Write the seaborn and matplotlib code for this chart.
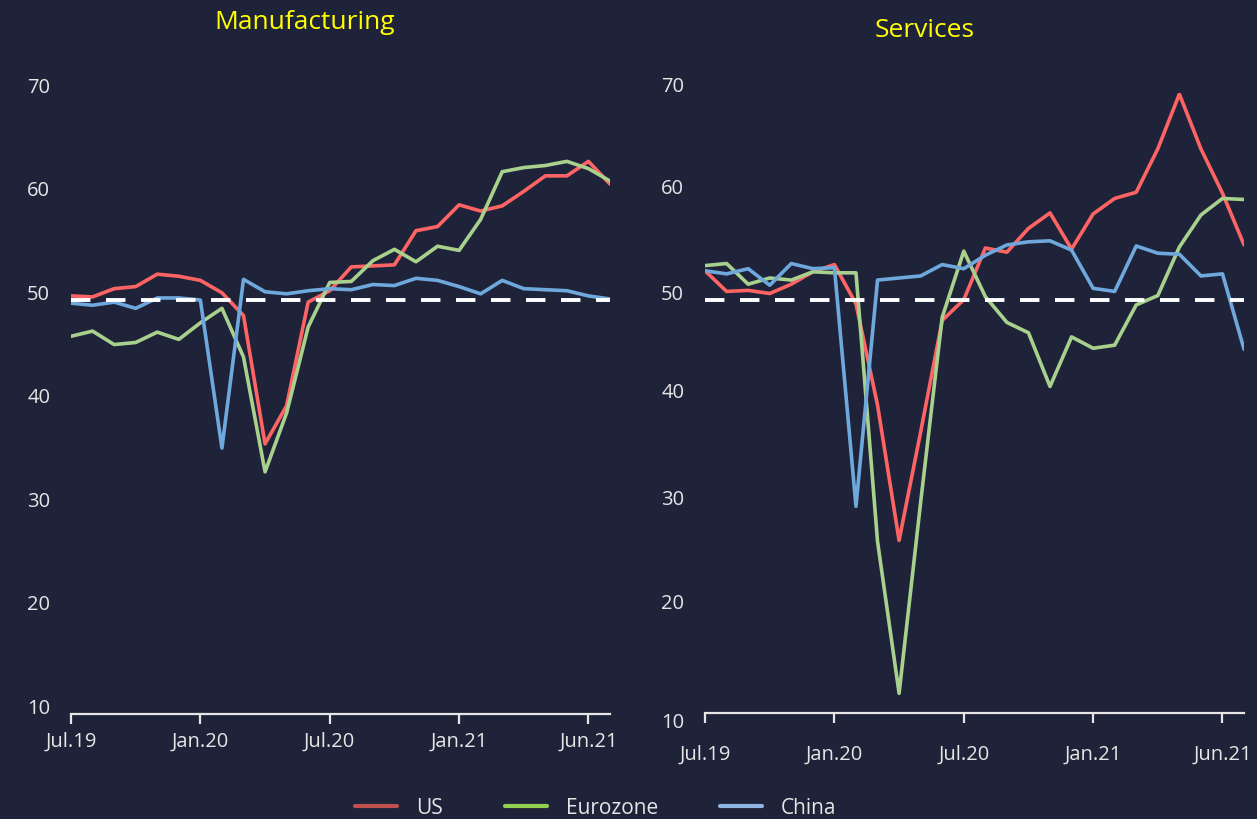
import matplotlib
matplotlib.use('Agg')
import matplotlib.pyplot as plt
import matplotlib.transforms as mtransforms
from matplotlib.lines import Line2D
import pandas as pd
import seaborn as sns

# Monthly PMI readings, Jul.19 .. Aug.21 (26 months)
months = list(range(26))
tick_pos = [0, 6, 12, 18, 24]
tick_labels = ['Jul.19', 'Jan.20', 'Jul.20', 'Jan.21', 'Jun.21']
y_ticks = [10, 20, 30, 40, 50, 60, 70]
regions = ['US', 'Eurozone', 'China']

us_mfg = [50.4, 50.3, 51.1, 51.3, 52.5, 52.3, 51.9, 50.7, 48.5, 36.1, 39.8, 49.8, 50.9,
          53.2, 53.3, 53.4, 56.7, 57.1, 59.2, 58.6, 59.1, 60.5, 62.0, 62.0, 63.4, 61.2]
ez_mfg = [46.5, 47.0, 45.7, 45.9, 46.9, 46.2, 47.8, 49.2, 44.5, 33.4, 39.1, 47.4, 51.7,
          51.8, 53.8, 54.9, 53.7, 55.2, 54.8, 57.8, 62.4, 62.8, 63.0, 63.4, 62.7, 61.5]
cn_mfg = [49.7, 49.5, 49.8, 49.2, 50.2, 50.2, 50.0, 35.7, 52.0, 50.8, 50.6, 50.9, 51.1,
          51.0, 51.5, 51.4, 52.1, 51.9, 51.3, 50.6, 51.9, 51.1, 51.0, 50.9, 50.4, 50.1]

us_srv = [52.8, 50.8, 50.9, 50.6, 51.5, 52.7, 53.4, 49.6, 39.8, 26.7, 37.2, 48.0, 50.0,
          55.0, 54.6, 56.9, 58.4, 54.9, 58.3, 59.8, 60.4, 64.6, 69.9, 64.6, 60.3, 55.3]
ez_srv = [53.3, 53.5, 51.5, 52.1, 51.9, 52.7, 52.6, 52.6, 26.6, 11.9, 30.4, 48.3, 54.7,
          50.3, 47.8, 46.8, 41.6, 46.4, 45.3, 45.6, 49.5, 50.4, 55.1, 58.2, 59.8, 59.7]
cn_srv = [52.8, 52.5, 53.0, 51.4, 53.5, 53.0, 53.1, 30.0, 51.9, 52.1, 52.3, 53.4, 53.0,
          54.3, 55.3, 55.6, 55.7, 54.8, 51.1, 50.8, 55.2, 54.5, 54.4, 52.3, 52.5, 45.2]

bg = '#1f2339'
fg = '#e6e6e6'
line_colors = {'US': '#ff6464', 'Eurozone': '#a9d18e', 'China': '#6fa8dc'}
legend_colors = ['#c0504d', '#92d050', '#8db4e2']

sns.set_style('dark')
plt.rcParams['font.family'] = ['Open Sans', 'DejaVu Sans']


def long_frame(us, ez, cn):
    return pd.DataFrame({
        'month': months * 3,
        'value': us + ez + cn,
        'region': ['US'] * 26 + ['Eurozone'] * 26 + ['China'] * 26,
    })


fig = plt.figure(figsize=(12.57, 8.2), dpi=100, facecolor=bg)
ax1 = fig.add_axes([0.0565, 0.128, 0.4288, 0.7573])
ax2 = fig.add_axes([0.5609, 0.1293, 0.4288, 0.756])


def style_panel(ax, df, xpad, ylab_shift):
    ax.set_facecolor(bg)
    sns.lineplot(data=df, x='month', y='value', hue='region', hue_order=regions,
                 palette=line_colors, linewidth=2.6, ax=ax, legend=False)
    ax.axhline(50, color='white', lw=2.8, linestyle=(0, (5.0, 4.0)), zorder=5)
    ax.set_xlim(0, 25)
    ax.set_ylim(10, 70)
    ax.set_xticks(tick_pos)
    ax.set_xticklabels(tick_labels)
    ax.set_yticks(y_ticks)
    ax.set_yticklabels([str(v) for v in y_ticks])
    ax.set_xlabel('')
    ax.set_ylabel('')
    ax.grid(False)
    for side in ['top', 'right', 'left']:
        ax.spines[side].set_visible(False)
    ax.spines['bottom'].set_color(fg)
    ax.spines['bottom'].set_linewidth(1.6)
    ax.tick_params(axis='x', colors=fg, labelsize=14.5, length=7, width=1.6,
                   direction='out', pad=xpad, bottom=True)
    ax.tick_params(axis='y', colors=fg, labelsize=14.5, length=0, pad=15)
    for lab, dy in zip(ax.get_yticklabels(), ylab_shift):
        lab.set_transform(lab.get_transform() +
                          mtransforms.ScaledTranslation(0, dy / 72, fig.dpi_scale_trans))


style_panel(ax1, long_frame(us_mfg, ez_mfg, cn_mfg), 5, [6.5] * 7)
style_panel(ax2, long_frame(us_srv, ez_srv, cn_srv), 15,
            [-4.5, 6.5, 7, 10, 6, 8, 7])

fig.text(0.2426, 0.973, 'Manufacturing', color='#ffff00', fontsize=19,
         ha='center', va='center')
fig.text(0.7359, 0.963, 'Services', color='#ffff00', fontsize=19,
         ha='center', va='center')

handles = [Line2D([], [], color=c, lw=3) for c in legend_colors]
fig.legend(handles, regions, loc='lower center', bbox_to_anchor=(0.474, -0.022),
           ncol=3, frameon=False, fontsize=15, labelcolor=fg,
           handlelength=2.0, handletextpad=0.9, columnspacing=3.0)

fig.savefig('out.png', dpi=100, facecolor=bg)
